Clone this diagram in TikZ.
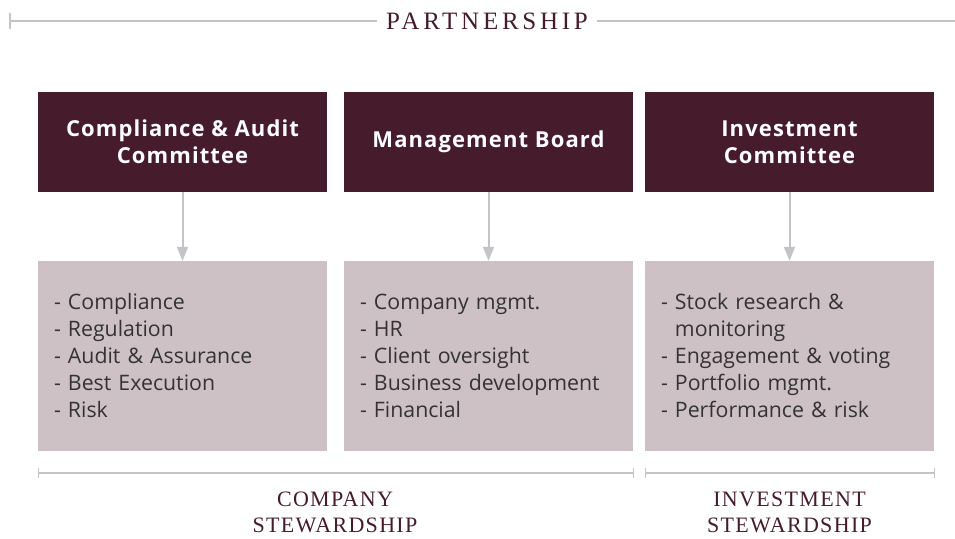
\documentclass[tikz,border=0pt]{standalone}
\usepackage{fontspec}
\setmainfont{Liberation Serif}
\newfontfamily\opensans{Open Sans}
\newfontfamily\opensanswide[LetterSpace=5]{Open Sans}
\newfontfamily\titleserif[LetterSpace=15]{Liberation Serif}
\newfontfamily\groupserif[LetterSpace=6]{Liberation Serif}
\usetikzlibrary{positioning}
\usetikzlibrary{arrows, arrows.meta}

\definecolor{maroon}{HTML}{461B2C}
\definecolor{mauve}{HTML}{CDC1C5}
\definecolor{rulegray}{HTML}{C4C3C8}

\begin{document}
\begin{tikzpicture}[x=1pt, y=-1pt]

\useasboundingbox (0, 0) rectangle (955, 538) ;

\def\boxwidth{289}

% styles

\tikzstyle{head box} = [fill=maroon, text=white, minimum width=\boxwidth pt, minimum height=100pt,
	inner sep=0pt, align=center, font=\opensanswide\bfseries\fontsize{22}{27}\selectfont]
\tikzstyle{task box} = [fill=mauve, text=black!80, minimum width=\boxwidth pt, minimum height=190pt,
	inner xsep=16pt, inner ysep=0pt, text width=\boxwidth pt - 32pt, align=left,
	font=\opensans\fontsize{21.3}{27}\selectfont]
\tikzstyle{down arrow} = [line width=2pt, rulegray, -{Triangle[length=14pt, width=11pt]}]
\tikzstyle{bracket line} = [line width=2pt, rulegray]
\tikzstyle{title text} = [text=maroon, font=\titleserif\fontsize{25}{28}\selectfont, inner xsep=9pt]
\tikzstyle{group text} = [text=maroon, font=\groupserif\fontsize{22}{26}\selectfont, align=center]

% partnership rule

\node [title text] (partner) at (487, 21) {PARTNERSHIP} ;
\coordinate (ruleleft) at (10, 21) ;
\coordinate (ruleright) at (955, 21) ;
\draw [bracket line] (ruleleft) -- (partner.west) ;
\draw [bracket line] (partner.east) -- (ruleright) ;
\draw [bracket line] (10, 13) -- (10, 29) ;

% committees

\node [head box] (audit) at (182.5, 142) {Compliance \& Audit\\Committee} ;
\node [head box] (board) at (488.5, 142) {Management Board} ;
\node [head box] (invest) at (789.5, 142) {Investment\\Committee} ;

% tasks

\node [task box] (audittasks) at (182.5, 356)
	{- Compliance\\- Regulation\\- Audit \& Assurance\\- Best Execution\\- Risk} ;
\node [task box] (boardtasks) at (488.5, 356)
	{- Company mgmt.\\- HR\\- Client oversight\\- Business development\\- Financial} ;
\node [task box] (investtasks) at (789.5, 356)
	{- Stock research \&\\\phantom{- }monitoring\\- Engagement \& voting\\- Portfolio mgmt.\\- Performance \& risk} ;

\foreach \from/\to in {audit/audittasks, board/boardtasks, invest/investtasks}
	\draw [down arrow] (\from.south) -- (\to.north) ;

% stewardship brackets

\coordinate (companyleft) at (38, 473) ;
\coordinate (companyright) at (633, 473) ;
\coordinate (investleft) at (645, 473) ;
\coordinate (investright) at (934, 473) ;

\draw [bracket line] (companyleft) -- (companyright) ;
\draw [bracket line] (investleft) -- (investright) ;
\foreach \tick in {companyleft, companyright, investleft, investright}
	\draw [line width=1pt, rulegray] ([yshift=-5pt]\tick) -- ([yshift=5pt]\tick) ;

\node [group text] (company) at (335, 512) {COMPANY\\STEWARDSHIP} ;
\node [group text] (investment) at (789.5, 512) {INVESTMENT\\STEWARDSHIP} ;

\end{tikzpicture}
\end{document}
